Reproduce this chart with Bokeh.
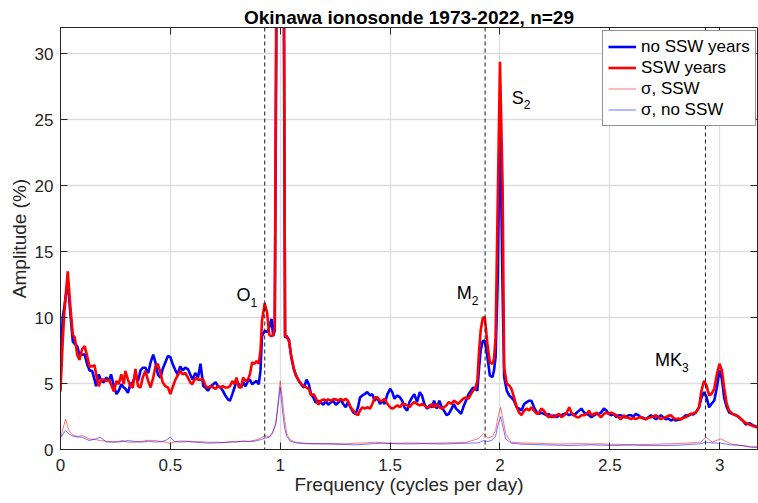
from bokeh.plotting import figure
from bokeh.models import (Range1d, LinearAxis, Span, Label, Legend, LegendItem,
                          FixedTicker)
from bokeh.embed import file_html
from bokeh.resources import INLINE

# ---------------- data ----------------
title_text = "Okinawa ionosonde 1973-2022, n=29"
x_label = "Frequency (cycles per day)"
y_label = "Amplitude (%)"

x_ticks = [0, 0.5, 1, 1.5, 2, 2.5, 3]
x_tick_labels = ["0", "0.5", "1", "1.5", "2", "2.5", "3"]
y_ticks = [0, 5, 10, 15, 20, 25, 30]
y_tick_labels = ["0", "5", "10", "15", "20", "25", "30"]

series_names = ["no SSW years", "SSW years", "\u03c3, SSW", "\u03c3, no SSW"]

# tidal constituents (cycles per day)
tide_names = ["O", "M", "S", "MK"]
tide_subs = ["1", "2", "2", "3"]
tide_freqs = [0.9295, 1.9323, 2.0, 2.9350]
dashed_constituents = [0.9295, 1.9323, 2.9350]

freq = [
    0.000, 0.010, 0.018, 0.033, 0.045, 0.056, 0.065, 0.076, 0.086, 0.098,
    0.110, 0.121, 0.132, 0.144, 0.155, 0.162, 0.174, 0.185, 0.197, 0.208,
    0.220, 0.230, 0.243, 0.255, 0.265, 0.277, 0.288, 0.295, 0.307, 0.318,
    0.329, 0.341, 0.353, 0.364, 0.374, 0.386, 0.399, 0.410, 0.422, 0.432,
    0.443, 0.455, 0.465, 0.477, 0.489, 0.500, 0.510, 0.523, 0.533, 0.545,
    0.556, 0.568, 0.580, 0.590, 0.600, 0.614, 0.626, 0.637, 0.650, 0.660,
    0.671, 0.683, 0.695, 0.706, 0.716, 0.728, 0.739, 0.750, 0.762, 0.771,
    0.782, 0.792, 0.801, 0.812, 0.822, 0.831, 0.842, 0.853, 0.862, 0.872,
    0.883, 0.892, 0.902, 0.910, 0.917, 0.929, 0.940, 0.950, 0.960, 0.968,
    0.975, 0.985, 1.000, 1.015, 1.022, 1.029, 1.040, 1.050, 1.062, 1.072,
    1.085, 1.097, 1.108, 1.120, 1.130, 1.140, 1.152, 1.162, 1.174, 1.185,
    1.197, 1.207, 1.218, 1.229, 1.241, 1.253, 1.263, 1.275, 1.287, 1.298,
    1.308, 1.320, 1.333, 1.343, 1.354, 1.363, 1.374, 1.384, 1.396, 1.409,
    1.419, 1.430, 1.442, 1.454, 1.465, 1.475, 1.488, 1.500, 1.510, 1.520,
    1.533, 1.545, 1.555, 1.565, 1.578, 1.588, 1.600, 1.610, 1.623, 1.635,
    1.645, 1.656, 1.668, 1.680, 1.690, 1.700, 1.712, 1.724, 1.735, 1.745,
    1.757, 1.767, 1.780, 1.790, 1.800, 1.810, 1.823, 1.833, 1.845, 1.857,
    1.868, 1.878, 1.887, 1.897, 1.905, 1.912, 1.922, 1.931, 1.943, 1.954,
    1.966, 1.973, 1.980, 1.990, 2.000, 2.012, 2.019, 2.031, 2.042, 2.052,
    2.064, 2.076, 2.087, 2.098, 2.110, 2.122, 2.133, 2.143, 2.155, 2.168,
    2.178, 2.188, 2.200, 2.213, 2.223, 2.234, 2.246, 2.258, 2.269, 2.280,
    2.292, 2.304, 2.315, 2.325, 2.337, 2.350, 2.360, 2.370, 2.383, 2.395,
    2.405, 2.416, 2.428, 2.440, 2.450, 2.460, 2.473, 2.485, 2.495, 2.506,
    2.518, 2.530, 2.540, 2.550, 2.563, 2.573, 2.585, 2.596, 2.607, 2.618,
    2.630, 2.640, 2.652, 2.664, 2.675, 2.687, 2.698, 2.710, 2.721, 2.732,
    2.744, 2.755, 2.766, 2.778, 2.789, 2.800, 2.812, 2.823, 2.835, 2.846,
    2.857, 2.868, 2.880, 2.891, 2.906, 2.917, 2.929, 2.940, 2.952, 2.962,
    2.975, 2.987, 2.999, 3.010, 3.020, 3.032, 3.043, 3.058, 3.073, 3.088,
    3.104, 3.119, 3.135, 3.150, 3.165, 3.180,
]

amp_no_ssw = [
    5.7, 10.0, 10.9, 12.8, 10.3, 8.2, 8.0, 7.85, 7.2, 7.2,
    7.2, 6.5, 6.0, 5.96, 5.3, 4.8, 5.7, 5.2, 5.1, 5.45,
    5.2, 5.7, 4.8, 4.2, 4.45, 4.95, 4.7, 4.6, 4.3, 4.95,
    5.1, 5.6, 5.2, 6.0, 6.2, 6.2, 5.8, 6.6, 7.2, 6.6,
    5.7, 5.45, 6.1, 6.6, 7.1, 7.0, 6.5, 6.0, 5.7, 6.3,
    6.0, 6.2, 6.1, 5.7, 5.3, 5.8, 5.45, 6.5, 4.8, 4.7,
    4.45, 4.8, 4.95, 5.1, 4.8, 4.7, 4.45, 4.1, 3.8, 3.7,
    4.2, 4.7, 5.2, 4.95, 4.7, 5.1, 4.8, 5.2, 5.3, 4.95,
    5.1, 5.2, 4.95, 5.96, 8.6, 9.0, 8.9, 9.25, 9.9, 8.6,
    9.0, 40.0, 75.0, 40.0, 8.5, 8.6, 8.3, 7.0, 6.1, 5.6,
    5.2, 4.9, 4.7, 5.3, 4.95, 4.2, 3.9, 3.55, 3.7, 3.55,
    3.4, 3.7, 3.4, 3.55, 3.7, 3.4, 3.55, 3.75, 3.45, 3.2,
    3.6, 3.2, 2.8, 2.7, 3.2, 3.95, 4.1, 4.2, 4.35, 4.1,
    4.2, 3.7, 3.95, 3.45, 3.7, 3.45, 4.2, 4.6, 4.35, 3.85,
    4.1, 3.95, 3.7, 3.2, 2.95, 3.6, 3.95, 4.2, 3.6, 4.35,
    4.1, 3.45, 3.1, 3.35, 3.2, 3.7, 3.1, 3.7, 3.2, 2.95,
    2.6, 2.7, 3.1, 3.45, 3.1, 2.95, 2.7, 3.2, 3.7, 4.2,
    4.47, 4.7, 4.6, 4.47, 6.2, 7.5, 8.25, 8.25, 7.0, 5.6,
    5.5, 6.0, 7.0, 13.0, 26.2, 12.0, 5.5, 4.47, 4.1, 3.95,
    3.7, 3.2, 3.1, 2.95, 3.45, 3.6, 3.7, 3.7, 3.2, 2.8,
    2.7, 2.8, 2.7, 2.6, 2.7, 2.45, 2.6, 2.45, 2.6, 2.6,
    2.7, 2.7, 2.6, 2.7, 2.6, 2.8, 2.95, 3.1, 2.8, 2.7,
    2.6, 2.45, 2.6, 2.7, 2.7, 2.8, 3.1, 2.95, 2.7, 2.6,
    2.7, 2.45, 2.6, 2.6, 2.45, 2.45, 2.6, 2.6, 2.5, 2.7,
    2.6, 2.45, 2.4, 2.3, 2.45, 2.6, 2.45, 2.3, 2.45, 2.6,
    2.45, 2.3, 2.35, 2.2, 2.3, 2.2, 2.25, 2.3, 2.45, 2.6,
    2.55, 2.7, 2.65, 2.8, 3.2, 3.95, 4.35, 3.95, 3.2, 3.45,
    3.7, 4.7, 6.0, 5.35, 3.95, 3.2, 2.8, 2.7, 2.6, 2.45,
    2.2, 1.9, 2.0, 1.85, 1.75, 1.7,
]

amp_ssw = [
    4.4, 8.2, 10.5, 13.5, 10.8, 8.7, 8.5, 7.2, 6.8, 7.6,
    7.85, 7.1, 6.3, 6.3, 6.4, 5.7, 4.8, 5.3, 5.3, 5.2,
    5.3, 4.95, 4.4, 5.2, 4.95, 5.7, 4.95, 5.96, 5.3, 4.8,
    4.7, 6.1, 4.8, 4.7, 5.45, 5.96, 5.2, 4.7, 5.45, 6.3,
    6.5, 5.8, 5.1, 4.8, 4.7, 4.2, 4.7, 5.3, 5.6, 5.96,
    5.7, 5.8, 5.45, 5.1, 4.95, 5.45, 5.3, 5.3, 5.3, 4.8,
    4.7, 4.8, 4.7, 4.6, 4.8, 4.7, 4.8, 4.7, 4.7, 4.8,
    5.2, 4.95, 5.45, 4.7, 4.7, 5.45, 5.2, 5.3, 5.7, 6.6,
    6.5, 6.7, 6.5, 7.5, 9.75, 11.1, 10.4, 8.7, 8.6, 8.7,
    9.2, 45.0, 80.0, 45.0, 8.6, 8.6, 8.2, 7.1, 6.1, 5.6,
    5.2, 4.95, 4.8, 4.7, 4.6, 4.1, 4.2, 3.9, 3.4, 3.7,
    3.8, 3.7, 3.8, 3.7, 3.8, 3.8, 3.7, 3.85, 3.7, 3.85,
    3.7, 3.2, 2.95, 2.7, 2.6, 2.95, 3.2, 3.1, 3.2, 3.1,
    3.45, 3.95, 3.95, 3.7, 3.7, 3.85, 3.45, 3.2, 3.1, 3.2,
    3.35, 3.2, 3.45, 3.45, 3.35, 3.2, 3.45, 3.6, 3.45, 3.35,
    3.45, 3.35, 3.2, 3.2, 3.45, 3.2, 3.45, 3.2, 3.1, 3.2,
    3.35, 3.6, 3.45, 3.7, 3.6, 3.45, 3.7, 3.85, 3.95, 3.85,
    4.2, 4.47, 4.6, 5.2, 7.5, 9.0, 10.0, 10.0, 8.0, 6.6,
    6.5, 6.9, 8.5, 19.0, 29.4, 20.0, 6.2, 5.0, 4.85, 4.6,
    3.95, 3.2, 2.8, 2.6, 2.95, 3.1, 2.95, 3.2, 2.95, 2.7,
    2.8, 3.1, 2.95, 2.6, 2.45, 2.6, 2.45, 2.6, 2.7, 2.45,
    2.6, 2.8, 3.2, 2.8, 2.6, 2.45, 2.45, 2.6, 2.6, 2.7,
    2.95, 2.6, 2.7, 2.8, 2.6, 2.45, 2.7, 2.8, 2.7, 2.8,
    2.7, 2.6, 2.45, 2.3, 2.6, 2.45, 2.4, 2.3, 2.4, 2.3,
    2.4, 2.45, 2.35, 2.3, 2.4, 2.45, 2.5, 2.6, 2.45, 2.3,
    2.4, 2.45, 2.55, 2.6, 2.4, 2.3, 2.35, 2.3, 2.4, 2.45,
    2.6, 2.7, 2.75, 2.8, 3.2, 4.47, 5.2, 4.85, 4.1, 4.2,
    4.6, 5.7, 6.5, 6.0, 4.7, 3.45, 2.95, 2.7, 2.6, 2.45,
    2.2, 2.0, 1.9, 1.8, 1.7, 1.7,
]

sig_freq = [
    0.000, 0.007, 0.023, 0.038, 0.060, 0.080, 0.100, 0.130, 0.160, 0.180,
    0.210, 0.235, 0.260, 0.280, 0.310, 0.340, 0.370, 0.400, 0.430, 0.460,
    0.480, 0.500, 0.520, 0.550, 0.580, 0.610, 0.640, 0.670, 0.710, 0.740,
    0.770, 0.800, 0.830, 0.860, 0.890, 0.910, 0.930, 0.950, 0.965, 0.980,
    0.990, 1.000, 1.010, 1.020, 1.030, 1.045, 1.070, 1.100, 1.140, 1.190,
    1.240, 1.290, 1.340, 1.390, 1.430, 1.470, 1.500, 1.550, 1.600, 1.650,
    1.700, 1.750, 1.800, 1.850, 1.900, 1.925, 1.946, 1.966, 1.980, 1.990,
    2.003, 2.015, 2.026, 2.050, 2.100, 2.155, 2.200, 2.250, 2.310, 2.360,
    2.410, 2.460, 2.510, 2.560, 2.610, 2.660, 2.710, 2.760, 2.810, 2.860,
    2.914, 2.937, 2.967, 3.005, 3.050, 3.100, 3.140, 3.180,
]

sigma_ssw = [
    0.8, 1.3, 2.3, 1.45, 1.05, 1.0, 1.05, 0.8, 0.75, 0.68,
    0.62, 0.56, 0.6, 0.68, 0.55, 0.56, 0.62, 0.7, 0.68, 0.6,
    0.55, 0.45, 0.58, 0.65, 0.63, 0.58, 0.6, 0.55, 0.56, 0.52,
    0.6, 0.58, 0.63, 0.62, 0.73, 0.85, 1.06, 0.95, 1.2, 2.0,
    3.6, 5.2, 3.8, 2.2, 1.2, 0.73, 0.56, 0.5, 0.45, 0.43,
    0.46, 0.42, 0.48, 0.5, 0.56, 0.5, 0.48, 0.48, 0.5, 0.47,
    0.48, 0.5, 0.52, 0.56, 0.81, 1.19, 0.88, 1.0, 1.44, 2.4,
    3.2, 2.2, 1.19, 0.56, 0.5, 0.48, 0.45, 0.42, 0.43, 0.45,
    0.42, 0.43, 0.4, 0.38, 0.35, 0.38, 0.4, 0.43, 0.45, 0.5,
    0.56, 0.93, 0.56, 0.81, 0.43, 0.3, 0.18, 0.15,
]

sigma_no_ssw = [
    0.9, 1.06, 1.44, 1.19, 0.98, 0.95, 0.93, 0.68, 0.8, 0.93,
    0.56, 0.58, 0.56, 0.6, 0.68, 0.6, 0.56, 0.62, 0.56, 0.6,
    0.7, 0.93, 0.6, 0.56, 0.6, 0.56, 0.52, 0.48, 0.5, 0.52,
    0.55, 0.58, 0.63, 0.6, 0.65, 0.75, 0.85, 0.93, 1.3, 1.94,
    3.3, 4.7, 3.0, 1.6, 1.0, 0.63, 0.5, 0.45, 0.43, 0.43,
    0.4, 0.38, 0.35, 0.4, 0.45, 0.48, 0.45, 0.43, 0.42, 0.45,
    0.43, 0.42, 0.45, 0.48, 0.5, 0.68, 0.6, 0.73, 1.0, 1.8,
    2.5, 1.6, 0.81, 0.48, 0.4, 0.38, 0.35, 0.33, 0.3, 0.32,
    0.35, 0.33, 0.3, 0.32, 0.35, 0.3, 0.3, 0.3, 0.32, 0.38,
    0.43, 0.56, 0.5, 0.48, 0.35, 0.3, 0.2, 0.18,
]

assert len(freq) == len(amp_no_ssw) == len(amp_ssw), (len(freq), len(amp_no_ssw), len(amp_ssw))
assert len(sig_freq) == len(sigma_ssw) == len(sigma_no_ssw)

# ---------------- figure ----------------
FONT = "Liberation Sans"
INK = "#262626"
X_MAX = 3.172

p = figure(width=758, height=503,
           x_range=Range1d(0, X_MAX), y_range=Range1d(0, 32),
           output_backend="svg", toolbar_location=None,
           min_border_left=60, min_border_right=1,
           min_border_top=27, min_border_bottom=54)
p.outline_line_color = None
p.background_fill_color = "white"
p.border_fill_color = "white"

# title (as the plot's own title)
p.title.text = title_text
p.title.align = "center"
p.title.text_font = FONT
p.title.text_font_size = "19px"
p.title.text_font_style = "bold"
p.title.text_color = "black"
p.title.standoff = 0
p.title.offset = 4

xticker = FixedTicker(ticks=x_ticks)
yticker = FixedTicker(ticks=y_ticks)

p.xaxis.ticker = xticker
p.yaxis.ticker = yticker
p.xaxis.major_label_overrides = {t: l for t, l in zip(x_ticks, x_tick_labels)}
p.yaxis.major_label_overrides = {t: l for t, l in zip(y_ticks, y_tick_labels)}
p.xaxis.axis_label = x_label
p.yaxis.axis_label = y_label

for ax in (p.xaxis[0], p.yaxis[0]):
    ax.axis_line_color = INK
    ax.axis_line_width = 1
    ax.major_tick_line_color = INK
    ax.major_tick_in = 7
    ax.major_tick_out = 0
    ax.minor_tick_line_color = None
    ax.major_label_text_font = FONT
    ax.major_label_text_font_size = "17px"
    ax.major_label_text_color = INK
    ax.axis_label_text_font = FONT
    ax.axis_label_text_font_size = "19px"
    ax.axis_label_text_font_style = "normal"
    ax.axis_label_text_color = INK
p.xaxis.major_label_standoff = 9
p.xaxis.axis_label_standoff = 0
p.yaxis.major_label_standoff = 7
p.yaxis.axis_label_standoff = 2

# mirrored axes (box) on top and right
for side, tk in (("above", xticker), ("right", yticker)):
    ax = LinearAxis(ticker=tk)
    ax.major_label_overrides = {t: "" for t in tk.ticks}
    ax.major_label_text_font_size = "0px"
    ax.major_label_text_color = None
    ax.major_label_standoff = 0
    ax.axis_line_color = INK
    ax.major_tick_line_color = INK
    ax.major_tick_in = 7
    ax.major_tick_out = 0
    ax.minor_tick_line_color = None
    p.add_layout(ax, side)

# grid
p.xgrid.ticker = xticker
p.ygrid.ticker = yticker
for g in (p.xgrid[0], p.ygrid[0]):
    g.grid_line_color = "#dedede"
    g.grid_line_width = 1.3

# dashed constituent lines
for f0 in dashed_constituents:
    p.add_layout(Span(location=f0, dimension="height", line_color="#1a1a1a",
                      line_width=1, line_dash="4 3"))

# series
r_blue = p.line(freq, amp_no_ssw, line_color="#0000ff", line_width=2.6)
r_red = p.line(freq, amp_ssw, line_color="#ff0000", line_width=2.6)
r_sig_red = p.line(sig_freq, sigma_ssw, line_color="#ff0000", line_width=1,
                   line_alpha=0.55)
r_sig_blue = p.line(sig_freq, sigma_no_ssw, line_color="#0000ff", line_width=1,
                    line_alpha=0.55)

# constituent labels (name + subscript)
label_pos = [(0.801, 11.68), (1.803, 11.83), (2.054, 26.69), (2.705, 6.75)]
px_per_unit = 697 / X_MAX
for name, sub, (lx, ly) in zip(tide_names, tide_subs, label_pos):
    p.add_layout(Label(x=lx, y=ly, text=name, text_font=FONT,
                       text_font_size="18px", text_color="black",
                       text_baseline="alphabetic", text_align="left"))
    w = {"O": 0.778, "M": 0.833, "S": 0.667, "MK": 1.5}[name] * 18 / px_per_unit
    p.add_layout(Label(x=lx + w, y=ly, y_offset=-7, text=sub, text_font=FONT,
                       text_font_size="12px", text_color="black",
                       text_baseline="alphabetic", text_align="left"))

# legend
legend = Legend(items=[
    LegendItem(label=series_names[0], renderers=[r_blue]),
    LegendItem(label=series_names[1], renderers=[r_red]),
    LegendItem(label=series_names[2], renderers=[r_sig_red]),
    LegendItem(label=series_names[3], renderers=[r_sig_blue]),
], location=(542, 323))
legend.label_text_font = FONT
legend.label_text_font_size = "17px"
legend.label_text_color = "black"
legend.border_line_color = INK
legend.border_line_width = 1
legend.background_fill_alpha = 1
legend.padding = 5
legend.spacing = 0
legend.margin = 0
legend.label_standoff = 5
legend.glyph_width = 28
legend.glyph_height = 21
legend.label_height = 21
p.add_layout(legend)

open("out.html", "w").write(file_html(p, INLINE))
